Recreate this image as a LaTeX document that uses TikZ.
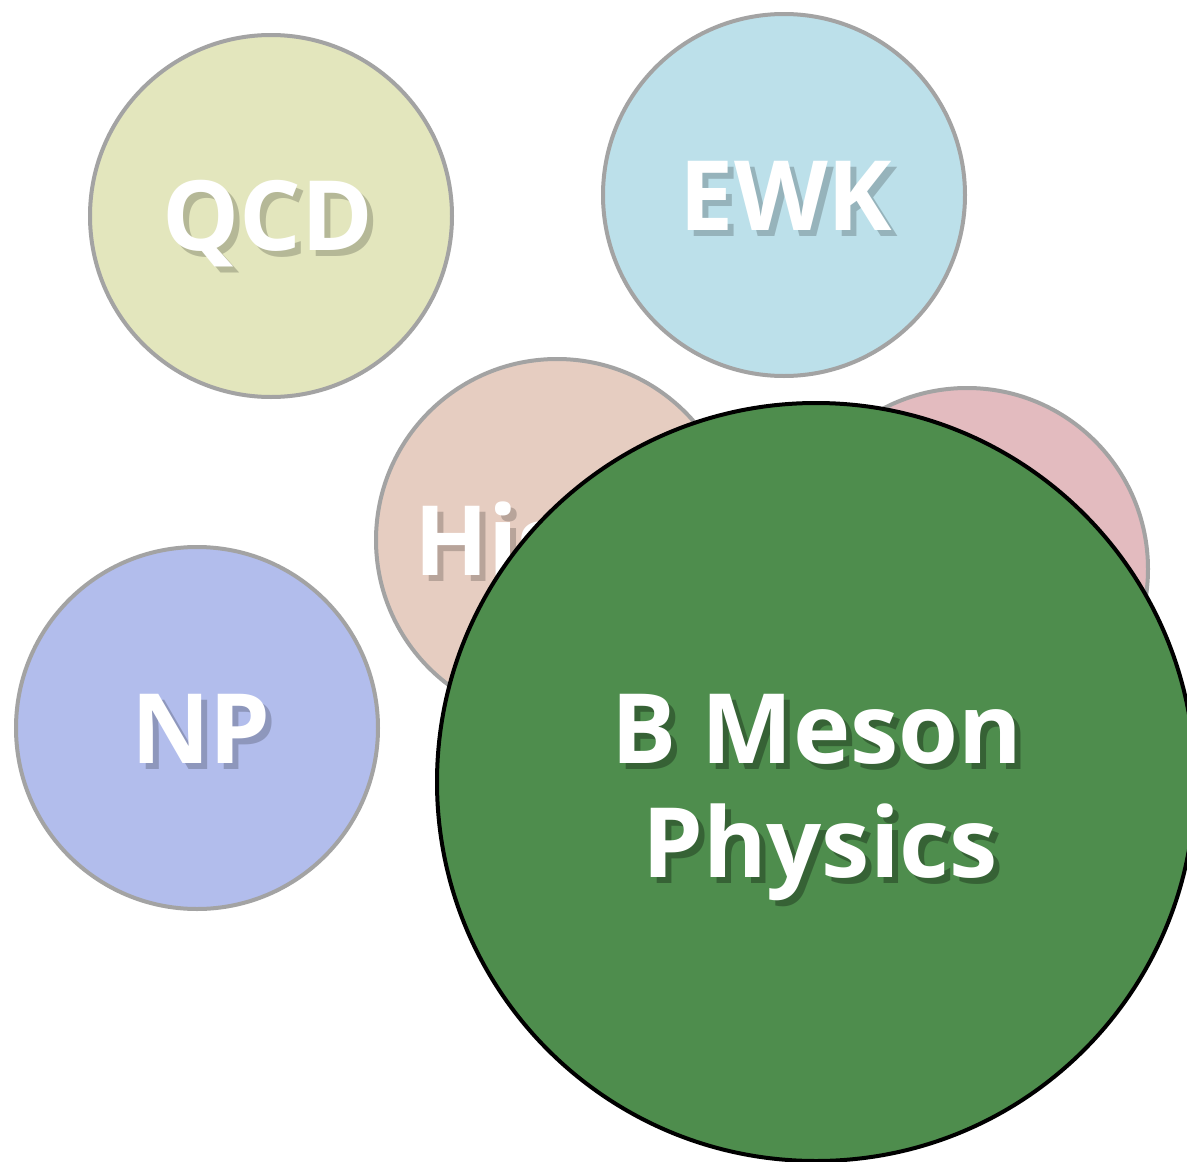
\documentclass[tikz,border=0pt]{standalone}
\usepackage{fontspec}
\setmainfont{Open Sans}
\definecolor{qcdc}{HTML}{E3E6BD}
\definecolor{ewkc}{HTML}{BCE0EA}
\definecolor{higc}{HTML}{E6CDC1}
\definecolor{pinkc}{HTML}{E3BBBF}
\definecolor{npc}{HTML}{B2BDEC}
\definecolor{bmc}{HTML}{4E8D4D}
\definecolor{rimc}{HTML}{A3A3A3}
\tikzset{
  bubble/.style={circle, draw=rimc, line width=4pt, minimum size=362pt, inner sep=0pt},
  big/.style={circle, draw=black, line width=4pt, minimum size=758pt, inner sep=0pt, fill=bmc},
  lbl/.style={text=white, font=\fontsize{97}{114}\selectfont\bfseries, inner sep=0pt, anchor=base},
  shd/.style={text=black, opacity=0.2, font=\fontsize{97}{114}\selectfont\bfseries, inner sep=0pt, anchor=base}
}
\begin{document}
\begin{tikzpicture}[x=1pt,y=-1pt]
\useasboundingbox (0,0) rectangle (1187,1162);
\clip (0,0) rectangle (1187,1162);
\node[bubble, fill=qcdc] (qcd) at (271,216) {};
\node[bubble, fill=ewkc] (ewk) at (784,195) {};
\node[bubble, fill=pinkc] (pink) at (967,569) {};
\node[bubble, fill=higc] (hig) at (557,540) {};
\node[bubble, fill=npc] (np) at (197,728) {};
\node[shd] at (274,256) {QCD};
\node[lbl] (qcdt) at (268,250) {QCD};
\node[shd] at (792,236) {EWK};
\node[lbl] (ewkt) at (786,230) {EWK};
\node[shd] at (207,769) {NP};
\node[lbl] (npt) at (201,763) {NP};
\node[shd] at (551,581) {Higgs};
\node[lbl] (higt) at (545,575) {Higgs};
\node[big] (bm) at (816,782) {};
\node[shd, opacity=0.3] at (823,769) {B Meson};
\node[lbl] (bmt1) at (817,763) {B Meson};
\node[shd, opacity=0.3] at (826,883) {Physics};
\node[lbl] (bmt2) at (820,877) {Physics};
\end{tikzpicture}
\end{document}
